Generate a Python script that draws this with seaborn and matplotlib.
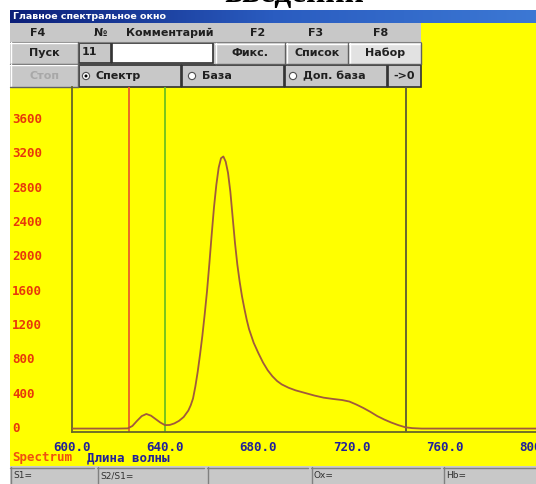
import numpy as np
import pandas as pd
import matplotlib
matplotlib.use("Agg")
import matplotlib.pyplot as plt
from matplotlib.patches import Rectangle, Circle
from matplotlib.colors import LinearSegmentedColormap
import seaborn as sns

# ---------------- data ----------------
wavelength = [600, 610, 620, 624, 626, 628, 630, 632, 634, 636, 638, 640, 642, 644,
              646, 648, 650, 651, 652, 653, 654, 655, 656, 657, 658, 659, 660, 661,
              662, 663, 664, 665, 666, 667, 668, 669, 670, 671, 672, 673, 674, 675,
              676, 678, 680, 682, 684, 686, 688, 690, 693, 696, 700, 704, 708, 712,
              716, 719, 722, 725, 728, 731, 734, 737, 740, 743, 746, 750, 760, 780, 800]
intensity = [40, 40, 40, 42, 70, 130, 185, 210, 190, 150, 110, 80, 82, 100,
             130, 175, 250, 310, 390, 530, 700, 900, 1120, 1370, 1640, 1960, 2300, 2620,
             2880, 3080, 3190, 3210, 3150, 3020, 2800, 2500, 2200, 1950, 1750, 1580, 1440, 1310,
             1200, 1040, 920, 810, 720, 650, 595, 555, 515, 485, 455, 425, 400, 385,
             372, 355, 320, 280, 235, 185, 145, 110, 80, 55, 45, 40, 40, 40, 40]
markers_wl = [624.5, 640.0, 743.3]
x_ticks = [600, 640, 680, 720, 760, 800]
x_tick_labels = ["600.0", "640.0", "680.0", "720.0", "760.0", "800.0"]
y_ticks = [0, 400, 800, 1200, 1600, 2000, 2400, 2800, 3200, 3600]
y_tick_labels = ["0", "400", "800", "1200", "1600", "2000", "2400", "2800", "3200", "3600"]

df = pd.DataFrame({"wl": wavelength, "I": intensity})

# ---------------- figure ----------------
sns.set_style("white")
plt.rcParams["font.family"] = ["DejaVu Sans"]
W, H = 536, 484
fig = plt.figure(figsize=(W / 100, H / 100), dpi=100, facecolor="white")

bg = fig.add_axes([0, 0, 1, 1], zorder=0)
bg.set_xlim(0, W)
bg.set_ylim(H, 0)
bg.axis("off")

GRAY = "#c8c8c8"
YEL = "#ffff00"

# cut heading from the document above
bg.text(294, 2.5, "введении", ha="center", va="baseline", fontsize=24,
        fontweight="bold", family="Liberation Serif", color="black")

# title bar
cmap = LinearSegmentedColormap.from_list("tb", ["#0c1f78", "#2a5cc0", "#3c78d4"])
grad = np.linspace(0, 1, 256).reshape(1, -1)
bg.imshow(grad, extent=(10, W, 23, 10), aspect="auto", cmap=cmap, zorder=1)
bg.text(13, 16.5, "Главное спектральное окно", color="white", fontsize=6.8,
        fontweight="bold", va="center", ha="left", zorder=2)

# yellow area
bg.add_patch(Rectangle((10, 23), W - 10, 466 - 23, facecolor=YEL, edgecolor="none", zorder=1))
# toolbar
bg.add_patch(Rectangle((10, 23), 411, 64, facecolor=GRAY, edgecolor="none", zorder=1))
# status bar
bg.add_patch(Rectangle((10, 466), W - 10, 18, facecolor=GRAY, edgecolor="none", zorder=1))


def button(x0, y0, x1, y1, face=GRAY, sunken=False):
    bg.add_patch(Rectangle((x0, y0), x1 - x0, y1 - y0, facecolor=face,
                           edgecolor="none", zorder=2))
    lt, rb = ("#ffffff", "#606060") if not sunken else ("#404040", "#ffffff")
    bg.plot([x0, x1], [y0 + 0.5, y0 + 0.5], color=lt, lw=1, zorder=3)
    bg.plot([x0 + 0.5, x0 + 0.5], [y0, y1], color=lt, lw=1, zorder=3)
    bg.plot([x0, x1], [y1 - 0.5, y1 - 0.5], color=rb, lw=1, zorder=3)
    bg.plot([x1 - 0.5, x1 - 0.5], [y0, y1], color=rb, lw=1, zorder=3)


def box(x0, y0, x1, y1, face=GRAY):
    bg.add_patch(Rectangle((x0, y0), x1 - x0, y1 - y0, facecolor=face,
                           edgecolor="#303030", lw=1.2, zorder=2))


tkw = dict(fontsize=8, fontweight="bold", color="#202020", va="center", zorder=4)

# row 1 labels
for lbl, xc in [("F4", 38), ("№", 100), ("Комментарий", 170), ("F2", 258),
                ("F3", 316), ("F8", 381)]:
    bg.text(xc, 33, lbl, ha="center", **tkw)
bg.plot([10, 421], [42, 42], color="#808080", lw=0.8, zorder=3)

# row 2
button(10, 42, 78, 64)
bg.text(44, 53, "Пуск", ha="center", **tkw)
box(79, 43, 111, 63)
bg.text(82, 52, "11", ha="left", **tkw)
box(112, 43, 213, 63, face="white")
button(215, 43, 285, 64)
bg.text(250, 53, "Фикс.", ha="center", **tkw)
button(286, 43, 348, 64)
bg.text(317, 53, "Список", ha="center", **tkw)
button(349, 43, 421, 64, face="#e2e2e2")
bg.text(385, 53, "Набор", ha="center", **tkw)

# row 3
button(10, 64, 78, 87)
bg.text(44, 76, "Стоп", ha="center", fontsize=8, fontweight="bold",
        color="#a8a8a8", va="center", zorder=4)
for (x0, x1, cx, tx, lbl, sel) in [(79, 181, 86, 95, "Спектр", True),
                                    (182, 284, 192, 202, "База", False),
                                    (285, 387, 293, 303, "Доп. база", False)]:
    box(x0, 65, x1, 87)
    bg.add_patch(Circle((cx, 76), 3.6, facecolor="white", edgecolor="#505050",
                        lw=0.8, zorder=4))
    if sel:
        bg.add_patch(Circle((cx, 76), 1.5, facecolor="black", edgecolor="none", zorder=5))
    bg.text(tx, 76, lbl, ha="left", **tkw)
box(388, 65, 421, 87)
bg.text(404.5, 76, "->0", ha="center", **tkw)

# status bar cells
for (x0, x1, lbl) in [(10, 94, "S1="), (97, 204, "S2/S1="), (207, 308, ""),
                      (311, 440, "Ox="), (443, 536, "Hb=")]:
    bg.add_patch(Rectangle((x0, 467), x1 - x0, 17, facecolor=GRAY,
                           edgecolor="none", zorder=2))
    bg.plot([x0, x1], [467.5, 467.5], color="#808080", lw=1, zorder=3)
    bg.plot([x0 + 0.5, x0 + 0.5], [467, 484], color="#808080", lw=1, zorder=3)
    bg.text(x0 + 3, 476, lbl, ha="left", va="center", fontsize=6.5,
            color="#303030", zorder=4)

# axis captions
bg.text(12, 458, "Spectrum", ha="left", va="center", fontsize=9, fontweight="bold",
        family="DejaVu Sans Mono", color="#f05010", zorder=4)
bg.text(87, 458, "Длина волны", ha="left", va="center", fontsize=9, fontweight="bold",
        family="DejaVu Sans Mono", color="#20209a", zorder=4)

# ---------------- plot axes ----------------
x600, x800 = 71.7, 538.3
y0px, ytop = 432, 87
ymax = (y0px - ytop) / 0.08583
ax = fig.add_axes([x600 / W, 1 - y0px / H, (x800 - x600) / W, (y0px - ytop) / H], zorder=5)
ax.patch.set_alpha(0)

AX = "#66662a"
for xv, col in zip(markers_wl, ["#e8602a", "#6cc020", "#5a5a34"]):
    ax.axvline(xv, color=col, lw=1.3, zorder=1)

sns.lineplot(data=df, x="wl", y="I", ax=ax, color="#a05a3c", lw=1.3, zorder=3)

ax.set_xlim(600, 800)
ax.set_ylim(0, ymax)
for s in ["top", "right"]:
    ax.spines[s].set_visible(False)
for s in ["left", "bottom"]:
    ax.spines[s].set_color(AX)
    ax.spines[s].set_linewidth(1.3)

ax.set_xticks(x_ticks, x_tick_labels)
ax.set_yticks(y_ticks, y_tick_labels)
ax.tick_params(axis="x", direction="out", length=5.8, width=1.2, color=AX, pad=1,
               labelsize=9, labelcolor="#20209a")
ax.tick_params(axis="y", direction="out", length=5, width=1.2, color=AX, pad=38,
               labelsize=9, labelcolor="#e8380a")
for t in ax.get_xticklabels():
    t.set_family("DejaVu Sans Mono")
    t.set_fontweight("bold")
for t in ax.get_yticklabels():
    t.set_family("DejaVu Sans Mono")
    t.set_fontweight("bold")
    t.set_ha("left")
    t.set_va("baseline")
ax.set_xlabel("")
ax.set_ylabel("")

fig.savefig("out.png", dpi=100, facecolor="white")
